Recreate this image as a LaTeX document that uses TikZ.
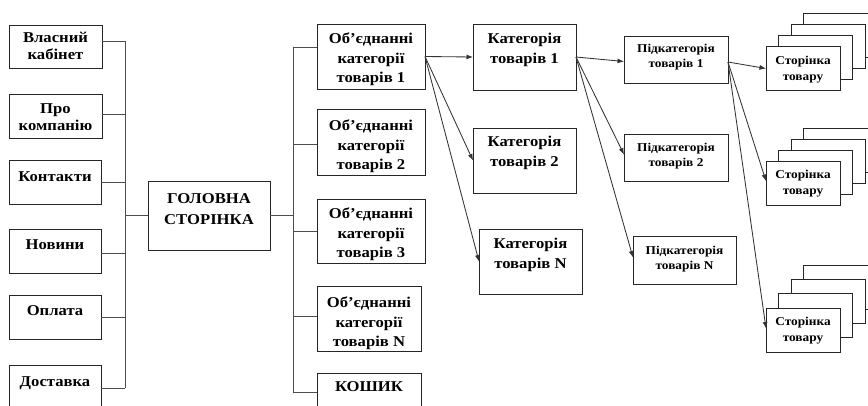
\documentclass[tikz,border=0pt]{standalone}
\usepackage{fontspec}
\setmainfont{Liberation Serif}[FakeStretch=1.11]
\usetikzlibrary{arrows.meta}
\tikzset{
  box/.style={draw=black!85,line width=0.9pt,fill=white,inner sep=0pt,outer sep=0pt,rectangle},
  tleft/.style={inner sep=0pt,align=center,font=\bfseries\fontsize{15}{17}\selectfont},
  tmain/.style={inner sep=0pt,align=center,font=\bfseries\fontsize{15}{21}\selectfont},
  tmid/.style={inner sep=0pt,align=center,font=\bfseries\fontsize{15}{19.5}\selectfont},
  tsub/.style={inner sep=0pt,align=center,font=\bfseries\fontsize{12}{15}\selectfont},
  tpage/.style={inner sep=0pt,align=center,font=\bfseries\fontsize{12}{16}\selectfont},
  conn/.style={draw=black!70,line width=1pt},
  arr/.style={draw=black!80,line width=0.85pt,-{Latex[length=6.5pt,width=5pt]}}
}
\newcommand\bx[8]{%
  \node[box,minimum width=#4pt,minimum height=#5pt,anchor=north west] (#1) at (#2,#3) {};
  \node[#7,anchor=north] (#1-t) at ([yshift=-#6pt]#1.north) {#8};}
\newcommand\pagestack[3]{% name, y of front, vertical offset
  \node[box,minimum width=74pt,minimum height=44pt,anchor=north west] (#1-4) at (803.5,#2-3*#3) {};
  \node[box,minimum width=74pt,minimum height=44pt,anchor=north west] (#1-3) at (791,#2-2*#3) {};
  \node[box,minimum width=74pt,minimum height=44pt,anchor=north west] (#1-2) at (778.5,#2-#3) {};
  \node[box,minimum width=74pt,minimum height=44pt,anchor=north west] (#1) at (766,#2) {};
  \node[tpage,anchor=north] (#1-t) at ([yshift=-9pt]#1.north) {Сторінка\\товару};}
\begin{document}
\begin{tikzpicture}[x=1pt,y=-1pt]
\useasboundingbox (0,0) rectangle (868,405);
% left column
\bx{vk}{9}{25}{93}{43}{7}{tleft}{Власний\\кабінет}
\bx{pk}{9}{94}{93}{44}{9}{tleft}{Про\\компанію}
\bx{kt}{9}{160}{92}{44}{11}{tleft}{Контакти}
\bx{nv}{9}{229}{92}{44}{10}{tleft}{Новини}
\bx{op}{9}{295}{92}{44}{10}{tleft}{Оплата}
\bx{ds}{9}{365}{92}{46}{11}{tleft}{Доставка}
% main
\bx{mn}{148}{181}{122}{69}{12}{tmain}{ГОЛОВНА\\СТОРІНКА}
% middle column
\bx{o1}{317}{24}{108}{65}{9}{tmid}{Об’єднанні\\категорії\\товарів 1}
\bx{o2}{317}{109}{108}{66}{11}{tmid}{Об’єднанні\\категорії\\товарів 2}
\bx{o3}{317}{199}{108}{64}{9}{tmid}{Об’єднанні\\категорії\\товарів 3}
\bx{oN}{317}{286}{104}{65}{11}{tmid}{Об’єднанні\\категорії\\товарів N}
\bx{ks}{317}{373}{104}{45}{8}{tmid}{КОШИК}
% categories
\bx{c1}{473}{24}{103}{66}{9}{tmid}{Категорія\\товарів 1}
\bx{c2}{473}{128}{103}{65}{8}{tmid}{Категорія\\товарів 2}
\bx{cN}{479}{229}{103}{65}{9}{tmid}{Категорія\\товарів N}
% subcategories
\bx{s1}{624}{36}{104}{47}{8}{tsub}{Підкатегорія\\товарів 1}
\bx{s2}{624}{134}{104}{47}{9}{tsub}{Підкатегорія\\товарів 2}
\bx{sN}{633}{236}{103}{48}{10}{tsub}{Підкатегорія\\товарів N}
% product pages
\pagestack{p1}{46.5}{11}
\pagestack{p2}{161}{11}
\pagestack{p3}{308}{14.3}
% left bus
\coordinate (busL) at (125,215.5);
\draw[conn] ([yshift=5.5pt]vk.east) -- ([yshift=5.5pt]vk.east -| busL);
\draw[conn] ([yshift=2pt]pk.east) -- ([yshift=2pt]pk.east -| busL);
\draw[conn] (kt.east) -- (kt.east -| busL);
\draw[conn] ([yshift=-2pt]nv.east) -- ([yshift=-2pt]nv.east -| busL);
\draw[conn] (op.east) -- (op.east -| busL);
\draw[conn] (ds.east) -- (ds.east -| busL);
\draw[conn] ([yshift=5.5pt]vk.east -| busL) -- (ds.east -| busL);
\draw[conn] (busL) -- (mn.west);
% right bus
\coordinate (busR) at (293,215.5);
\draw[conn] (mn.east) -- (busR);
\draw[conn] ([yshift=9.5pt]o1.west -| busR) -- ([yshift=9.5pt]o1.west);
\draw[conn] ([yshift=-2pt]o2.west -| busR) -- ([yshift=-2pt]o2.west);
\draw[conn] (o3.west -| busR) -- (o3.west);
\draw[conn] ([yshift=2.5pt]oN.west -| busR) -- ([yshift=2.5pt]oN.west);
\draw[conn] ([yshift=3.5pt]ks.west -| busR) -- ([yshift=3.5pt]ks.west);
\draw[conn] ([yshift=9.5pt]o1.west -| busR) -- ([yshift=3.5pt]ks.west -| busR);
% arrows
\draw[arr] (o1.east) -- (c1.west);
\draw[arr] (o1.east) -- (c2.west);
\draw[arr] (o1.east) -- (cN.west);
\draw[arr] (c1.east) -- ([yshift=-2pt]s1.west);
\draw[arr] (c1.east) -- ([yshift=3pt]s2.west);
\draw[arr] (c1.east) -- ([yshift=2.5pt]sN.west);
\draw[arr] ([yshift=-2.5pt]s1.east) -- (p1.west);
\draw[arr] ([yshift=-2.5pt]s1.east) -- ([yshift=2pt]p2.west);
\draw[arr] ([yshift=-2.5pt]s1.east) -- ([yshift=1.5pt]p3.west);
\end{tikzpicture}
\end{document}
